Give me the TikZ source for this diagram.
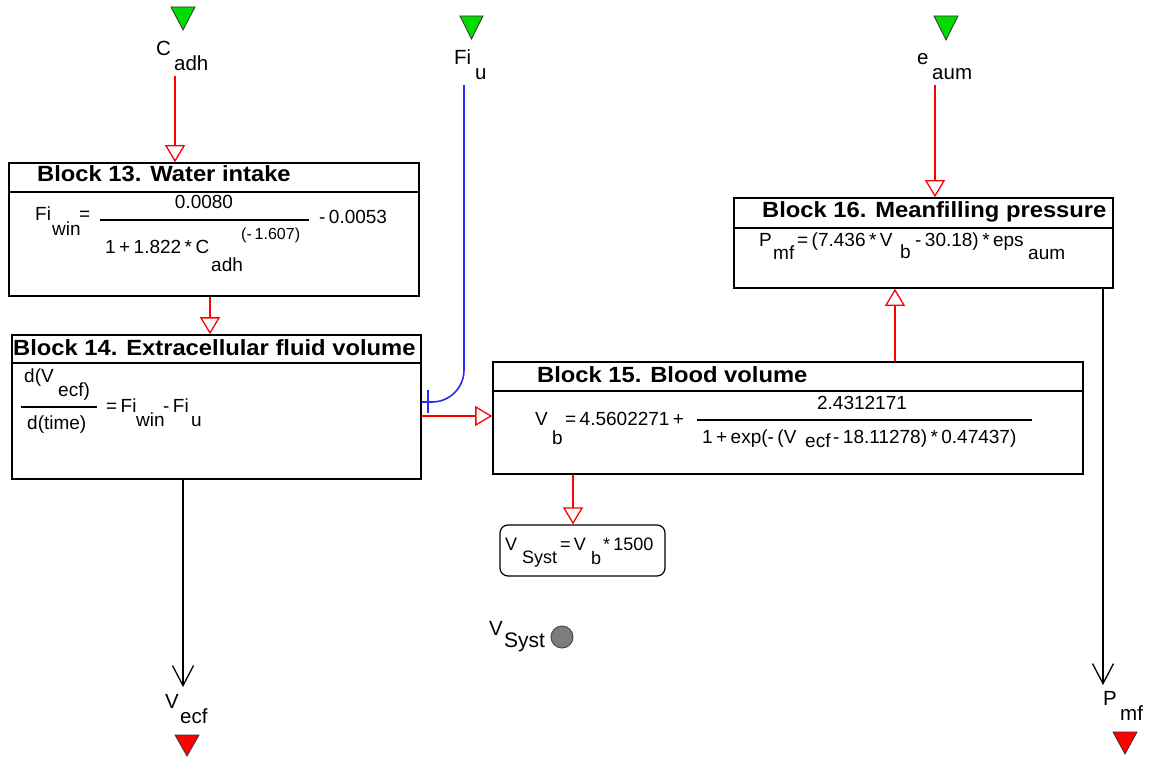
\documentclass[tikz,border=0pt]{standalone}
\usepackage{fontspec}
\setmainfont{Liberation Sans}[WordSpace=0.65]
\newfontfamily\tfont{Liberation Sans}[FakeStretch=1.08]
\usetikzlibrary{arrows.meta}
\definecolor{mkgreen}{RGB}{0,220,0}
\definecolor{mkred}{RGB}{255,0,0}
\definecolor{cblue}{RGB}{40,40,255}
\definecolor{dotgray}{RGB}{125,125,125}
\begin{document}
\begin{tikzpicture}[x=1pt,y=-1pt,
  txt/.style={anchor=base west, inner sep=0pt, font=\fontsize{19}{20}\selectfont},
  ctxt/.style={txt, anchor=base},
  lbl/.style={txt, font=\fontsize{20.5}{22}\selectfont},
  smalltxt/.style={txt, font=\fontsize{16}{18}\selectfont},
  boxtxt/.style={txt, font=\fontsize{18}{20}\selectfont},
  bigtxt/.style={txt, font=\fontsize{21}{23}\selectfont},
  ttl/.style={anchor=base west, inner sep=0pt, font=\tfont\bfseries\fontsize{22}{24}\selectfont},
  blk/.style={draw=black, line width=1.6pt, rectangle, inner sep=0pt, fill=white},
  sepline/.style={draw=black, line width=1.6pt},
  fracline/.style={draw=black, line width=1.2pt},
  redarr/.style={draw=mkred, line width=1.3pt, -{Triangle[open, width=20pt, length=17pt, line width=1.3pt]}},
  blkarr/.style={draw=black, line width=1.3pt, -{Straight Barb[width=21pt, length=20pt, line width=1.3pt]}},
  mk/.style={draw=black!80, line width=0.8pt},
  blueline/.style={draw=cblue, line width=1.6pt}
]
\fill[white] (0,0) rectangle (1152,757);
\useasboundingbox (0,0) rectangle (1152,757);

% blocks
\node[blk, minimum width=410pt, minimum height=133pt] (b13) at (214,229.5) {};
\node[blk, minimum width=409pt, minimum height=144pt] (b14) at (216.5,407) {};
\node[blk, minimum width=590pt, minimum height=112pt] (b15) at (788,418) {};
\node[blk, minimum width=379pt, minimum height=90pt] (b16) at (923.5,243) {};
\node[draw=black, line width=1.2pt, rounded corners=8pt, minimum width=165pt, minimum height=51pt, inner sep=0pt] (vbox) at (582.5,550.5) {};
\node[circle, draw=black!70, line width=1pt, fill=dotgray, minimum size=22pt, inner sep=0pt] (vdot) at (562,637) {};

\draw[sepline] (b13.west |- 0,192) -- (b13.east |- 0,192);
\draw[sepline] (b14.west |- 0,363) -- (b14.east |- 0,363);
\draw[sepline] (b15.west |- 0,391) -- (b15.east |- 0,391);
\draw[sepline] (b16.west |- 0,228) -- (b16.east |- 0,228);

% titles
\node[ttl] (t13) at (37,182) {Block 13. Water intake};
\node[ttl] (t14) at (13,355) {Block 14. Extracellular fluid volume};
\node[ttl] (t15) at (537,382) {Block 15. Blood volume};
\node[ttl] (t16) at (762,218) {Block 16. Meanfilling pressure};

% block 13 formula
\node[txt] (f13a) at (35,221) {Fi};
\node[txt] (f13b) at (52,236) {win};
\node[txt] (f13c) at (79,221) {=};
\node[ctxt] (f13d) at (204,208) {0.0080};
\draw[fracline] (100,220) -- (309,220);
\node[txt] (f13e) at (319,223) {- 0.0053};
\node[txt] (f13f) at (105,253) {1 + 1.822 * C};
\node[txt] (f13g) at (211,271) {adh};
\node[smalltxt] (f13h) at (241,240) {(- 1.607)};

% block 14 formula
\node[txt] (f14a) at (24,382) {d(V};
\node[txt] (f14b) at (58,396) {ecf)};
\draw[fracline] (21,407) -- (97,407);
\node[txt] (f14c) at (27,429) {d(time)};
\node[txt] (f14d) at (106,412) {= Fi};
\node[txt] (f14e) at (136,426) {win};
\node[txt] (f14f) at (163,412) {- Fi};
\node[txt] (f14g) at (191,426) {u};

% block 15 formula
\node[txt] (f15a) at (535,425) {V};
\node[txt] (f15b) at (552,444) {b};
\node[txt] (f15c) at (565,425) {= 4.5602271 +};
\node[ctxt] (f15d) at (862,409) {2.4312171};
\draw[fracline] (697,420) -- (1032,420);
\node[txt] (f15e) at (702,443) {1 + exp(- (V};
\node[txt] (f15f) at (805,447) {ecf};
\node[txt] (f15g) at (833,443) {- 18.11278) * 0.47437)};

% block 16 formula
\node[txt] (f16a) at (759,246) {P};
\node[txt] (f16b) at (773,259) {mf};
\node[txt] (f16c) at (797,246) {= (7.436 * V};
\node[txt] (f16d) at (900,258) {b};
\node[txt] (f16e) at (915,246) {- 30.18) * eps};
\node[txt] (f16f) at (1028,259) {aum};

% V_Syst box formula
\node[boxtxt] (fva) at (505,550) {V};
\node[boxtxt] (fvb) at (522,563) {Syst};
\node[boxtxt] (fvc) at (560,550) {= V};
\node[boxtxt] (fvd) at (591,564) {b};
\node[boxtxt] (fve) at (603,550) {* 1500};

% V_Syst label
\node[lbl] (lvs1) at (489,635) {V};
\node[bigtxt] (lvs2) at (504,647) {Syst};

% input markers and labels
\draw[mk, fill=mkgreen] (171,7) -- (195,7) -- (183,30) -- cycle;
\draw[mk, fill=mkgreen] (460,16) -- (483,16) -- (471.5,39) -- cycle;
\draw[mk, fill=mkgreen] (934,16) -- (958,16) -- (946,40) -- cycle;
\node[lbl] (lc1) at (156,56) {C};
\node[lbl] (lc2) at (174,71) {adh};
\node[lbl] (lf1) at (454,65) {Fi};
\node[lbl] (lf2) at (475,80) {u};
\node[lbl] (le1) at (917,65) {e};
\node[lbl] (le2) at (932,80) {aum};

% output markers and labels
\draw[mk, fill=mkred] (175,735) -- (199,735) -- (187,756) -- cycle;
\draw[mk, fill=mkred] (1113,732) -- (1137,732) -- (1125,754) -- cycle;
\node[lbl] (lv1) at (165,708) {V};
\node[lbl] (lv2) at (180,723) {ecf};
\node[lbl] (lp1) at (1103,705) {P};
\node[lbl] (lp2) at (1120,720) {mf};

% connectors
\coordinate (cadhs) at (175,76);
\coordinate (fius) at (464,85);
\coordinate (eaums) at (935,85);
\coordinate (vecfe) at (183,687);
\coordinate (pmfe) at (1103,685);

\draw[redarr] (cadhs) -- (cadhs |- b13.north);
\draw[redarr] (b13.south -| 210,0) -- (b14.north -| 210,0);
\draw[blueline, rounded corners=32pt] (fius) -- (fius |- 0,402) -- (b14.east |- 0,402);
\draw[blueline] (428,390) -- (428,413);
\draw[redarr] (b14.east |- 0,416) -- (b15.west |- 0,416);
\draw[redarr] (b15.north -| 895,0) -- (b16.south -| 895,0);
\draw[redarr] (eaums) -- (eaums |- b16.north);
\draw[redarr] (b15.south -| 573,0) -- (vbox.north -| 573,0);
\draw[blkarr] (b14.south -| vecfe) -- (vecfe);
\draw[blkarr] (b16.south -| pmfe) -- (pmfe);
\end{tikzpicture}
\end{document}
